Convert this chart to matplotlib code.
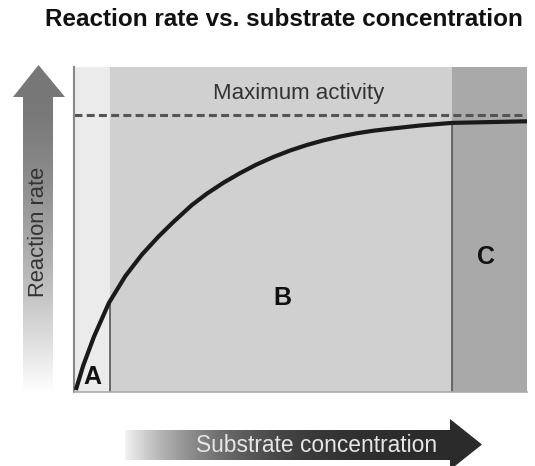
import numpy as np
import matplotlib
matplotlib.use("Agg")
import matplotlib.pyplot as plt
from matplotlib.patches import Polygon

plt.rcParams['font.family'] = ['Liberation Sans', 'DejaVu Sans']

# curve (x and y both in 0-100 plot units)
conc = [0.4, 2.0, 4.4, 7.7, 11.3, 15.0, 18.7, 22.0, 26.0, 29.3, 33.0, 36.6,
        40.3, 44.0, 47.7, 51.4, 55.0, 58.7, 62.4, 66.1, 69.8, 76.4, 83.4, 100.0]
rate = [0.6, 8.0, 17.0, 27.4, 35.6, 42.3, 47.9, 52.4, 57.5, 61.0, 64.4, 67.3,
        70.0, 72.3, 74.3, 76.0, 77.4, 78.6, 79.6, 80.4, 81.0, 82.0, 82.8, 83.3]
vmax = 85.2

# regions A / B / C
region_labels = ['A', 'B', 'C']
region_edges = [0, 7.9, 83.4, 100]
region_colors = ['#ebebeb', '#d0d0d0', '#a9a9a9']
label_pos = [(4.0, 4.6), (46.0, 29.0), (91.0, 41.5)]
region_rate = [28.0, 82.8]   # where the boundary lines meet the curve

W, H = 535, 466
fig = plt.figure(figsize=(W / 100, H / 100), dpi=100)

ax = fig.add_axes([74 / W, (H - 392) / H, 453 / W, 325 / H])
ax.set_xlim(0, 100)
ax.set_ylim(0, 100)
for i in range(3):
    ax.axvspan(region_edges[i], region_edges[i + 1], color=region_colors[i], lw=0, zorder=0)
for xe, ye in zip(region_edges[1:3], region_rate):
    ax.plot([xe, xe], [0, ye], color='#555555', lw=1.2, zorder=2)

ax.axhline(vmax, color='#555555', lw=2.2, linestyle=(0, (2.6, 1.4)), zorder=2)
ax.plot(conc, rate, color='#1a1a1a', lw=3, solid_capstyle='butt',
        solid_joinstyle='round', zorder=3)

ax.text(49.5, 91.7, 'Maximum activity', ha='center', va='center', fontsize=16, color='#333333')
for lab, (lx, ly) in zip(region_labels, label_pos):
    ax.text(lx, ly, lab, ha='center', va='center', fontsize=18, fontweight='bold', color='#111111')

ax.set_xticks([])
ax.set_yticks([])
for s in ['top', 'right']:
    ax.spines[s].set_visible(False)
ax.spines['left'].set_color('#888888')
ax.spines['left'].set_linewidth(1.5)
ax.spines['bottom'].set_color('#aaaaaa')
ax.spines['bottom'].set_linewidth(1.2)

# overlay axes in pixel units for the arrows
ov = fig.add_axes([0, 0, 1, 1], zorder=-1)
ov.set_xlim(0, W)
ov.set_ylim(H, 0)
ov.axis('off')

# vertical arrow: grey at the top fading to white
vy = np.linspace(0, 1, 300)
vg = np.clip(0.47 + 0.53 * np.clip((vy - 0.12) / 0.88, 0, 1) ** 1.4, 0, 1)
vimg = np.repeat(vg[:, None, None], 3, axis=2)
im1 = ov.imshow(vimg, extent=(10, 68, 392, 62), aspect='auto', origin='upper',
                interpolation='bilinear')
varrow = Polygon([(23, 392), (23, 97), (13, 97), (38.5, 65), (65, 97), (53, 97), (53, 392)],
                 closed=True, facecolor='none', edgecolor='none', transform=ov.transData)
ov.add_patch(varrow)
im1.set_clip_path(varrow)
ov.text(38, 232, 'Reaction rate', rotation=90, ha='center', va='center',
        fontsize=15.8, color='#333333')

# horizontal arrow: white on the left getting dark to the right
hx = np.linspace(0, 1, 400)
hg = 0.17 + 0.78 * (1 - hx) ** 3.5
himg = np.repeat(hg[None, :, None], 3, axis=2)
im2 = ov.imshow(himg, extent=(125, 483, 472, 418), aspect='auto', origin='upper',
                interpolation='bilinear')
harrow = Polygon([(125, 430), (450, 430), (450, 419), (482, 444.5), (450, 470), (450, 460), (125, 460)],
                 closed=True, facecolor='none', edgecolor='none', transform=ov.transData)
ov.add_patch(harrow)
im2.set_clip_path(harrow)
ov.text(317, 445, 'Substrate concentration', ha='center', va='center',
        fontsize=16.4, color='#e6e6e6')

fig.text(284 / W, 1 - 19 / H, 'Reaction rate vs. substrate concentration',
         ha='center', va='center', fontsize=17.5, fontweight='bold', color='#111111')

fig.savefig('out.png', dpi=100, facecolor='white')
